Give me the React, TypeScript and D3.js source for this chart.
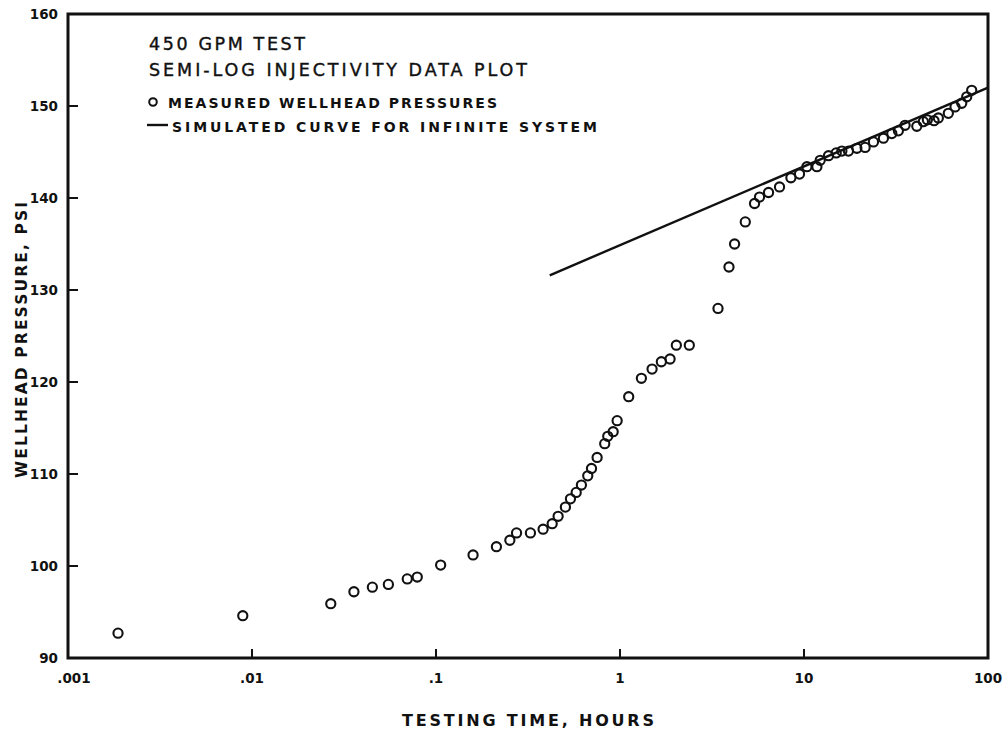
import React from "react";
import * as d3 from "d3";

const timeHours = [
  0.00187, 0.00891, 0.0268, 0.0358, 0.0451, 0.0551, 0.0698, 0.0791, 0.106, 0.159,
  0.213, 0.252, 0.274, 0.326, 0.382, 0.428, 0.461, 0.505, 0.538, 0.578,
  0.617, 0.668, 0.70, 0.751, 0.826, 0.858, 0.918, 0.965, 1.115, 1.307,
  1.494, 1.678, 1.871, 2.024, 2.381, 3.409, 3.911, 4.195, 4.796, 5.386,
  5.733, 6.416, 7.362, 8.488, 9.454, 10.37, 11.75, 12.25, 13.59, 14.96,
  16.06, 17.44, 19.38, 21.49, 23.85, 27.02, 30.01, 32.58, 35.43, 41.03,
  44.53, 46.82, 50.91, 53.72, 60.87, 66.2, 71.97, 76.63, 81.54,
];
const pressurePsi = [
  92.7, 94.6, 95.9, 97.2, 97.7, 98.0, 98.6, 98.8, 100.1, 101.2,
  102.1, 102.8, 103.6, 103.6, 104.0, 104.6, 105.4, 106.4, 107.3, 108.0,
  108.8, 109.8, 110.6, 111.8, 113.3, 114.1, 114.6, 115.8, 118.4, 120.4,
  121.4, 122.2, 122.5, 124.0, 124.0, 128.0, 132.5, 135.0, 137.4, 139.4,
  140.1, 140.6, 141.2, 142.2, 142.6, 143.4, 143.4, 144.1, 144.6, 144.9,
  145.1, 145.1, 145.4, 145.5, 146.1, 146.5, 147.0, 147.3, 147.9, 147.8,
  148.3, 148.5, 148.4, 148.7, 149.2, 149.9, 150.3, 151.0, 151.7,
];
const simTime = [0.415, 100];
const simPressure = [131.6, 152.0];

const xTicks = [0.001, 0.01, 0.1, 1, 10, 100];
const xTickLabels = [".001", ".01", ".1", "1", "10", "100"];
const yTicks = [90, 100, 110, 120, 130, 140, 150, 160];
const titleLines = ["450 GPM TEST", "SEMI-LOG INJECTIVITY DATA PLOT"];
const legendLabels = ["MEASURED WELLHEAD PRESSURES", "SIMULATED CURVE FOR INFINITE SYSTEM"];
const xTitle = "TESTING TIME, HOURS";
const yTitle = "WELLHEAD PRESSURE, PSI";

const W = 1008;
const H = 740;
const font = "'DejaVu Sans', 'Liberation Sans', sans-serif";

export default function App() {
  const x = d3.scaleLog().domain([0.001, 100]).range([68, 988]);
  const y = d3.scaleLinear().domain([90, 160]).range([658, 14]);
  const line = d3
    .line<number>()
    .x((_, i) => x(simTime[i]))
    .y((d) => y(d));

  const x0 = x(0.001), x1 = x(100), y0 = y(90), y1 = y(160);

  return (
    <svg
      width={W}
      height={H}
      style={{ position: "absolute", left: 0, top: 0, background: "#fff" }}
      fontFamily={font}
    >
      <rect x={0} y={0} width={W} height={H} fill="#fff" />
      {/* frame */}
      <path
        d={`M${x0},${y1}H${x1}V${y0}H${x0}Z`}
        fill="none"
        stroke="#111"
        strokeWidth={3}
      />
      {/* y ticks */}
      {yTicks.map((t) => (
        <g key={"y" + t}>
          {t > 90 && t < 160 && (
            <line x1={x0} x2={x0 + 10} y1={y(t)} y2={y(t)} stroke="#111" strokeWidth={2} />
          )}
          <text
            x={x0 - 10}
            y={y(t) + 5}
            textAnchor="end"
            fontSize={13.5}
            fontWeight="bold"
            fill="#111"
          >
            {t}
          </text>
        </g>
      ))}
      {/* x ticks */}
      {xTicks.map((t, i) => (
        <g key={"x" + t}>
          {i > 0 && i < xTicks.length - 1 && (
            <line x1={x(t)} x2={x(t)} y1={y0} y2={y0 - 9} stroke="#111" strokeWidth={2} />
          )}
          <text
            x={x(t) + (i === 0 ? 6 : 0)}
            y={683}
            textAnchor="middle"
            fontSize={13.5}
            fontWeight="bold"
            fill="#111"
          >
            {xTickLabels[i]}
          </text>
        </g>
      ))}
      {/* simulated line */}
      <path d={line(simPressure) || ""} fill="none" stroke="#111" strokeWidth={2.4} />
      {/* measured points */}
      {timeHours.map((t, i) => (
        <circle
          key={"p" + i}
          cx={x(t)}
          cy={y(pressurePsi[i])}
          r={4.6}
          fill="none"
          stroke="#111"
          strokeWidth={2.1}
        />
      ))}
      {/* title */}
      <text x={149} y={50} fontSize={17.5} fill="#111" stroke="#111" strokeWidth={0.4} textLength={156} lengthAdjust="spacing">
        {titleLines[0]}
      </text>
      <text x={149} y={76} fontSize={17.5} fill="#111" stroke="#111" strokeWidth={0.4} textLength={378} lengthAdjust="spacing">
        {titleLines[1]}
      </text>
      {/* legend */}
      <circle cx={153} cy={102} r={3.8} fill="none" stroke="#111" strokeWidth={2} />
      <text x={168} y={107.5} fontSize={14} fontWeight="bold" fill="#111" textLength={329} lengthAdjust="spacing">
        {legendLabels[0]}
      </text>
      <line x1={147} x2={168} y1={125} y2={125} stroke="#111" strokeWidth={2.4} />
      <text x={172} y={131.5} fontSize={14} fontWeight="bold" fill="#111" textLength={425} lengthAdjust="spacing">
        {legendLabels[1]}
      </text>
      {/* axis titles */}
      <text
        x={528}
        y={726}
        textAnchor="middle"
        fontSize={16}
        fontWeight="bold"
        fill="#111"
        textLength={252}
        lengthAdjust="spacing"
      >
        {xTitle}
      </text>
      <text
        transform={`translate(27,340) rotate(-90)`}
        textAnchor="middle"
        fontSize={15.5}
        fontWeight="bold"
        fill="#111"
        textLength={276}
        lengthAdjust="spacing"
      >
        {yTitle}
      </text>
    </svg>
  );
}
